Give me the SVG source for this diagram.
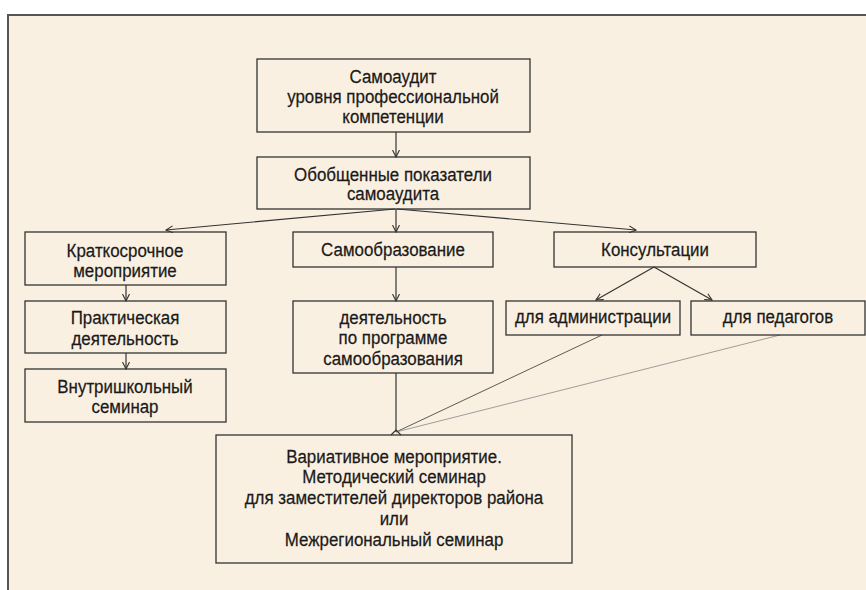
<svg xmlns="http://www.w3.org/2000/svg" width="866" height="590" viewBox="0 0 866 590">
<defs>
<style>
.box{fill:none;stroke:#333;stroke-width:1.3}
.t{font-family:"Liberation Sans",Arial,sans-serif;font-size:19px;fill:#1a1a1a;stroke:#1a1a1a;stroke-width:0.25;text-anchor:middle}
.c{fill:none;stroke:#333;stroke-width:1.2}
.thin{fill:none;stroke:#333;stroke-width:0.8}
.gray{fill:none;stroke:#888;stroke-width:0.8}
</style>
<marker id="ah" viewBox="0 0 8 8" refX="7" refY="4" markerWidth="8" markerHeight="8" markerUnits="userSpaceOnUse" orient="auto">
<path d="M0,0.5 L7,4 L0,7.5" fill="none" stroke="#333" stroke-width="1.1"/>
</marker>
</defs>
<rect x="0" y="0" width="866" height="590" fill="#ffffff"/>
<rect x="8" y="15" width="880" height="600" fill="#FAF0E2" stroke="#555" stroke-width="2"/>

<g id="connectors">
<line class="c" x1="396" y1="132" x2="396" y2="157" marker-end="url(#ah)"/>
<line class="c" x1="395" y1="209" x2="166" y2="230" marker-end="url(#ah)"/>
<line class="c" x1="396" y1="209" x2="396" y2="232" marker-end="url(#ah)"/>
<line class="c" x1="397" y1="209" x2="636" y2="230" marker-end="url(#ah)"/>
<line class="c" x1="126" y1="285" x2="126" y2="301" marker-end="url(#ah)"/>
<line class="c" x1="126" y1="353" x2="126" y2="369" marker-end="url(#ah)"/>
<line class="c" x1="396" y1="267" x2="396" y2="301" marker-end="url(#ah)"/>
<line class="c" x1="654" y1="267" x2="596" y2="300" marker-end="url(#ah)"/>
<line class="c" x1="654" y1="267" x2="712" y2="300" marker-end="url(#ah)"/>
<line class="c" x1="396" y1="373" x2="396" y2="432"/>
<line class="thin" x1="602" y1="335" x2="396" y2="432"/>
<line class="gray" x1="780" y1="335" x2="396" y2="432"/>
<path class="c" d="M391,435 L396,430 L401,435"/>
</g>

<g id="n1">
<rect class="box" x="257" y="59" width="273" height="73"/>
<g transform="translate(393 0) scale(0.89 1)">
<text class="t" x="0" y="83">Самоаудит</text>
<text class="t" x="0" y="103">уровня профессиональной</text>
<text class="t" x="0" y="123">компетенции</text>
</g>
</g>
<g id="n2">
<rect class="box" x="257" y="157" width="273" height="52"/>
<g transform="translate(393 0) scale(0.89 1)">
<text class="t" x="0" y="181">Обобщенные показатели</text>
<text class="t" x="0" y="200">самоаудита</text>
</g>
</g>
<g id="n3">
<rect class="box" x="25" y="232" width="201" height="53"/>
<g transform="translate(125 0) scale(0.89 1)">
<text class="t" x="0" y="257">Краткосрочное</text>
<text class="t" x="0" y="277">мероприятие</text>
</g>
</g>
<g id="n4">
<rect class="box" x="25" y="301" width="201" height="52"/>
<g transform="translate(125 0) scale(0.89 1)">
<text class="t" x="0" y="324">Практическая</text>
<text class="t" x="0" y="345">деятельность</text>
</g>
</g>
<g id="n5">
<rect class="box" x="25" y="369" width="201" height="53"/>
<g transform="translate(125 0) scale(0.89 1)">
<text class="t" x="0" y="393">Внутришкольный</text>
<text class="t" x="0" y="413">семинар</text>
</g>
</g>
<g id="n6">
<rect class="box" x="293" y="232" width="200" height="35"/>
<g transform="translate(393 0) scale(0.89 1)">
<text class="t" x="0" y="256">Самообразование</text>
</g>
</g>
<g id="n7">
<rect class="box" x="293" y="301" width="200" height="72"/>
<g transform="translate(393 0) scale(0.89 1)">
<text class="t" x="0" y="324">деятельность</text>
<text class="t" x="0" y="344">по программе</text>
<text class="t" x="0" y="365">самообразования</text>
</g>
</g>
<g id="n8">
<rect class="box" x="554" y="232" width="202" height="35"/>
<g transform="translate(655 0) scale(0.89 1)">
<text class="t" x="0" y="256">Консультации</text>
</g>
</g>
<g id="n9">
<rect class="box" x="506" y="301" width="174" height="34"/>
<g transform="translate(593 0) scale(0.89 1)">
<text class="t" x="0" y="323">для администрации</text>
</g>
</g>
<g id="n10">
<rect class="box" x="691" y="301" width="174" height="34"/>
<g transform="translate(778 0) scale(0.89 1)">
<text class="t" x="0" y="323">для педагогов</text>
</g>
</g>
<g id="n11">
<rect class="box" x="216" y="435" width="356" height="128"/>
<g transform="translate(394 0) scale(0.89 1)">
<text class="t" x="0" y="463">Вариативное мероприятие.</text>
<text class="t" x="0" y="483">Методический семинар</text>
<text class="t" x="0" y="504">для заместителей директоров района</text>
<text class="t" x="0" y="525">или</text>
<text class="t" x="0" y="546">Межрегиональный семинар</text>
</g>
</g>
</svg>
